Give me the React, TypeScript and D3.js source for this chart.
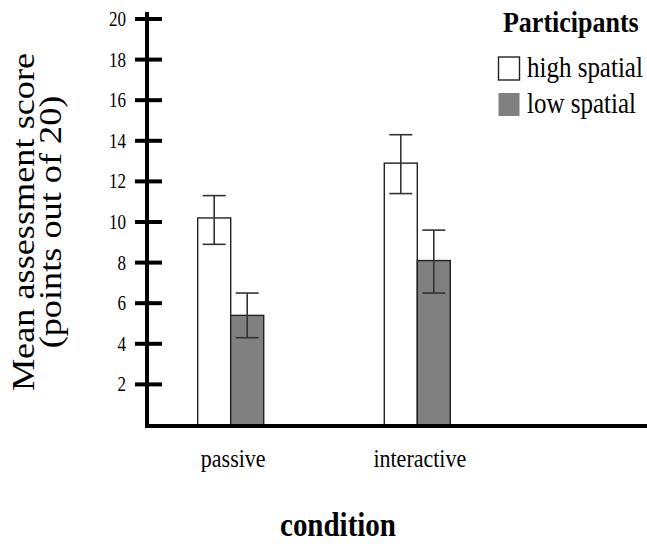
import * as d3 from "d3";
import { useRef, useEffect } from "react";

const conditions = ["passive", "interactive"];
const groups = ["high spatial", "low spatial"];
const groupColors = ["#ffffff", "#808080"];
// means per condition, [high, low]
const means = [
  [10.2, 5.4],
  [12.9, 8.1],
];
const errHigh = [
  [11.3, 6.5],
  [14.3, 9.6],
];
const errLow = [
  [8.9, 4.3],
  [11.4, 6.5],
];
const yTicks = [2, 4, 6, 8, 10, 12, 14, 16, 18, 20];

// the original picture is stretched a bit vertically
const SY = 1.17;

export default function App() {
  const svgRef = useRef<SVGSVGElement>(null);

  useEffect(() => {
    const svg = d3.select(svgRef.current);
    svg.selectAll("*").remove();

    const label = (x: number, y: number, txt: string, size: number, anchor = "start", bold = false) =>
      svg.append("text")
        .attr("transform", `translate(${x},${y}) scale(1,${SY})`)
        .attr("text-anchor", anchor)
        .attr("font-size", size)
        .attr("font-weight", bold ? "bold" : "normal")
        .text(txt);

    const y = d3.scaleLinear().domain([0, 20]).range([425, 19]);
    const x = d3.scaleBand().domain(conditions).range([138.4, 511.6]).padding(0);
    const sub = d3.scaleBand().domain(groups).range([-34, 32]).padding(0);

    // bars
    conditions.forEach((c, ci) => {
      const cx = x(c)! + x.bandwidth() / 2;
      const g = svg.append("g");
      groups.forEach((gname, gi) => {
        const v = means[ci][gi];
        const bx = cx + sub(gname)!;
        g.append("rect")
          .attr("x", bx)
          .attr("y", y(v))
          .attr("width", sub.bandwidth())
          .attr("height", y(0) - y(v))
          .attr("fill", groupColors[gi])
          .attr("stroke", "#222")
          .attr("stroke-width", 1.4);
        const mx = bx + sub.bandwidth() / 2;
        const hi = y(errHigh[ci][gi]);
        const lo = y(errLow[ci][gi]);
        g.append("line").attr("x1", mx).attr("x2", mx).attr("y1", hi).attr("y2", lo)
          .attr("stroke", "#333").attr("stroke-width", 1.6);
        [hi, lo].forEach((yy) => {
          g.append("line").attr("x1", mx - 11.5).attr("x2", mx + 11.5).attr("y1", yy).attr("y2", yy)
            .attr("stroke", "#333").attr("stroke-width", 1.6);
        });
      });
      label(cx + 1.5, 467, c, 22, "middle");
    });

    // axes
    svg.append("line").attr("x1", 147).attr("x2", 147).attr("y1", 12).attr("y2", 427)
      .attr("stroke", "#000").attr("stroke-width", 4);
    svg.append("line").attr("x1", 145).attr("x2", 647).attr("y1", 426).attr("y2", 426)
      .attr("stroke", "#000").attr("stroke-width", 4);
    yTicks.forEach((t) => {
      svg.append("line").attr("x1", 135).attr("x2", 162).attr("y1", y(t)).attr("y2", y(t))
        .attr("stroke", "#000").attr("stroke-width", 4);
      label(126, y(t) + 7, String(t), 17, "end");
    });

    // y label
    const yl = svg.append("text")
      .attr("transform", `translate(34,222) scale(1,${SY}) rotate(-90)`)
      .attr("text-anchor", "middle")
      .attr("font-size", 31);
    yl.append("tspan").attr("x", 0).attr("dy", 0).text("Mean assessment score");
    yl.append("tspan").attr("x", 0).attr("dy", 27).text("(points out of 20)");

    // x label
    label(338, 536, "condition", 29, "middle", true);

    // legend
    label(503, 32, "Participants", 26, "start", true);
    groups.forEach((gname, gi) => {
      const ly = 57 + gi * 36;
      svg.append("rect")
        .attr("x", 498.5)
        .attr("y", ly)
        .attr("width", 21)
        .attr("height", 23)
        .attr("fill", groupColors[gi])
        .attr("stroke", gi === 0 ? "#222" : "none")
        .attr("stroke-width", 1.4);
      label(527, ly + 20, gname, 25);
    });
  }, []);

  return (
    <svg ref={svgRef} width={647} height={544}
      style={{ position: "absolute", left: 0, top: 0, background: "#fff",
        fontFamily: '"Liberation Serif", "Times New Roman", Times, serif' }} />
  );
}
